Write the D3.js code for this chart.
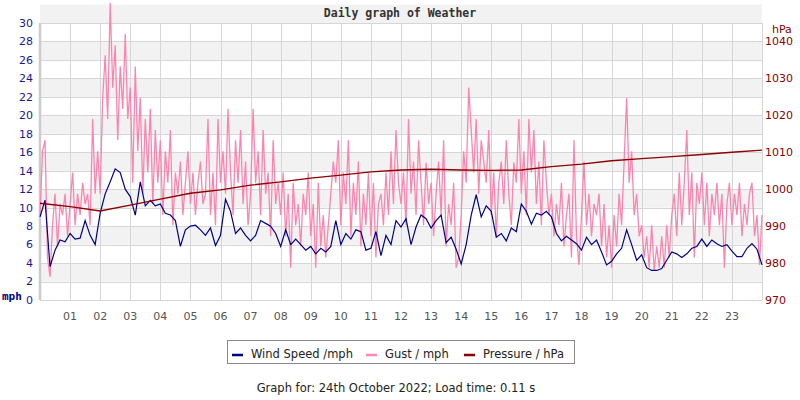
<!DOCTYPE html>
<html>
<head>
<meta charset="utf-8">
<script src="https://cdn.jsdelivr.net/npm/d3@7"></script>
<style>
    body { margin: 0; background: #fff; }
    svg { display: block; font-family: "DejaVu Sans", sans-serif; }
</style>
</head>
<body>
<div id="chart"></div>
<script>
// wind speed, mph, one value every 10 minutes from 00:00 to 24:00
const windSpeed = [
    9.0, 10.8, 3.6, 5.4, 6.5, 6.3,
    7.2, 6.6, 6.7, 8.6, 7.0, 6.0,
    9.4, 11.5, 12.8, 14.2, 13.8, 12.0,
    11.2, 9.2, 12.8, 10.2, 10.8, 10.2,
    10.4, 9.4, 9.2, 8.6, 5.8, 7.6,
    8.0, 8.1, 7.6, 7.0, 7.8, 5.9,
    7.0, 10.9, 9.6, 7.2, 7.8, 7.0,
    6.4, 7.0, 8.6, 8.3, 8.0, 7.2,
    5.8, 7.6, 6.0, 6.6, 6.0, 5.4,
    5.8, 5.0, 5.6, 5.2, 5.8, 8.6,
    6.0, 7.2, 6.6, 7.6, 7.4, 5.4,
    5.6, 7.4, 4.8, 7.0, 6.0, 8.6,
    7.9, 8.8, 6.0, 7.9, 9.2, 8.8,
    7.8, 8.6, 9.2, 6.2, 6.8, 5.5,
    3.9, 6.0, 9.2, 11.4, 9.0, 10.2,
    9.6, 6.8, 7.2, 6.4, 7.8, 7.4,
    10.4, 9.6, 8.2, 9.4, 9.2, 9.6,
    9.0, 7.2, 6.4, 6.9, 6.5, 6.1,
    5.4, 6.8, 6.0, 6.5, 5.2, 3.8,
    4.2, 5.0, 5.6, 7.6, 6.0, 4.3,
    4.9, 3.5, 3.2, 3.2, 3.4, 4.3,
    5.2, 5.0, 4.6, 5.0, 5.6, 5.8,
    6.6, 5.8, 6.5, 6.1, 5.8, 6.0,
    5.3, 4.7, 4.7, 5.6, 6.1, 5.5,
    3.8,
]

// gust, mph, one value every 5 minutes
const gustSpeed = [
    9.2, 16.1, 17.3, 4.6, 2.5, 8.1, 11.5, 5.8, 10.4, 9.2, 11.5, 6.9,
    10.4, 13.8, 8.1, 11.5, 9.2, 12.7, 10.4, 11.5, 8.1, 19.6, 11.5, 16.1,
    11.5, 21.9, 26.5, 19.6, 32.2, 23.0, 27.6, 17.3, 25.3, 20.7, 28.8, 19.6,
    23.0, 12.7, 25.3, 16.1, 21.9, 11.5, 19.6, 13.8, 20.7, 10.4, 18.4, 12.7,
    17.3, 9.2, 16.1, 12.7, 18.4, 8.1, 13.8, 11.5, 15.0, 9.2, 12.7, 16.1,
    10.4, 13.8, 9.2, 12.7, 15.0, 10.4, 11.5, 19.6, 9.2, 13.8, 8.1, 19.6,
    12.7, 16.1, 11.5, 20.7, 13.8, 9.2, 17.3, 12.7, 18.4, 10.4, 15.0, 8.1,
    11.5, 20.7, 12.7, 16.1, 9.2, 18.4, 11.5, 13.8, 6.9, 17.3, 10.4, 12.7,
    9.2, 13.8, 6.9, 11.5, 3.5, 12.7, 8.1, 10.4, 5.8, 11.5, 9.2, 13.8,
    6.9, 10.4, 3.5, 12.7, 5.8, 9.2, 4.6, 8.1, 11.5, 15.0, 12.7, 17.3,
    8.1, 13.8, 10.4, 17.3, 6.9, 12.7, 9.2, 15.0, 5.8, 11.5, 8.1, 13.8,
    6.9, 12.7, 4.6, 10.4, 11.5, 8.1, 13.8, 9.2, 16.1, 10.4, 18.4, 12.7,
    10.4, 13.8, 8.1, 19.6, 11.5, 15.0, 9.2, 17.3, 12.7, 8.1, 14.9, 10.4,
    12.7, 6.9, 11.5, 15.0, 9.2, 17.3, 5.8, 10.4, 8.1, 12.7, 3.5, 4.6,
    9.2, 16.1, 12.7, 23.0, 18.4, 13.8, 19.6, 11.5, 17.3, 15.0, 12.7, 18.4,
    9.2, 13.8, 6.9, 12.7, 15.0, 10.4, 17.3, 11.5, 8.1, 14.9, 12.7, 19.6,
    11.5, 16.1, 9.2, 19.6, 13.8, 18.4, 10.4, 15.0, 8.1, 17.3, 12.7, 9.2,
    11.5, 6.9, 10.4, 8.1, 12.7, 5.8, 9.2, 11.5, 4.6, 17.3, 6.9, 3.8,
    9.2, 15.0, 8.1, 11.5, 6.9, 10.4, 9.2, 11.5, 5.8, 10.4, 4.6, 8.1,
    3.5, 9.2, 5.8, 11.5, 8.1, 15.0, 21.9, 12.7, 16.1, 9.2, 11.5, 6.9,
    8.1, 4.6, 6.9, 3.5, 8.1, 3.2, 5.8, 3.5, 6.9, 3.5, 8.1, 4.6,
    9.2, 11.5, 6.9, 13.8, 8.1, 12.7, 18.4, 9.2, 13.8, 4.6, 12.7, 10.4,
    13.8, 8.1, 12.7, 6.9, 11.5, 9.2, 12.7, 8.1, 11.5, 3.5, 10.4, 12.7,
    8.1, 11.5, 9.2, 12.7, 6.9, 10.4, 8.1, 11.5, 12.7, 6.9, 9.2, 3.8,
    9.2,
]

// pressure, hPa, hourly
const pressure = [
    996.2, 995.3, 994.1, 995.7, 997.3, 998.9, 999.8, 1001.1, 1002.0, 1003.0,
    1003.8, 1004.7, 1005.2, 1005.4, 1005.2, 1005.1, 1005.2, 1006.1, 1006.8,
    1007.7, 1008.3, 1008.8, 1009.4, 1010.0, 1010.6,
]

const hourLabels = ["01", "02", "03", "04", "05", "06", "07", "08", "09", "10", "11", "12",
    "13", "14", "15", "16", "17", "18", "19", "20", "21", "22", "23"]
const mphTicks = [0, 2, 4, 6, 8, 10, 12, 14, 16, 18, 20, 22, 24, 26, 28, 30]
const hpaTicks = [970, 980, 990, 1000, 1010, 1020, 1030, 1040]

const legendItems = [
    { label: "Wind Speed /mph", color: "#000088" },
    { label: "Gust / mph", color: "#ff88b0" },
    { label: "Pressure / hPa", color: "#8b0000" },
]

const width = 800
const height = 400
const plot = { left: 40, right: 762, top: 23, bottom: 300 }

const x = d3.scaleLinear().domain([0, 24]).range([plot.left, plot.right])
const yMph = d3.scaleLinear().domain([0, 30]).range([plot.bottom, plot.top])
const yHpa = d3.scaleLinear().domain([970, 1045]).range([plot.bottom, plot.top])

const svg = d3.select("#chart").append("svg").attr("width", width).attr("height", height)

// --- background bands and grid ---
svg.selectAll(".band")
    .data(mphTicks.filter((t) => t % 4 === 2))
    .enter()
    .append("rect")
    .attr("x", plot.left)
    .attr("width", plot.right - plot.left)
    .attr("y", (t) => yMph(t + 2))
    .attr("height", (t) => yMph(t) - yMph(t + 2))
    .attr("fill", "#f2f2f2")

svg.selectAll(".hgrid")
    .data(mphTicks)
    .enter()
    .append("line")
    .attr("x1", plot.left).attr("x2", plot.right)
    .attr("y1", (t) => Math.round(yMph(t)) + 0.5).attr("y2", (t) => Math.round(yMph(t)) + 0.5)
    .attr("stroke", "#d6d6d6")

svg.selectAll(".vgrid")
    .data(d3.range(1, 25))
    .enter()
    .append("line")
    .attr("x1", (h) => Math.round(x(h)) + 0.5).attr("x2", (h) => Math.round(x(h)) + 0.5)
    .attr("y1", plot.top).attr("y2", plot.bottom)
    .attr("stroke", "#d6d6d6")

svg.append("line")
    .attr("x1", plot.left).attr("x2", plot.left)
    .attr("y1", plot.top).attr("y2", plot.bottom)
    .attr("stroke", "#cccccc").attr("stroke-width", 2.5)

// --- series ---
const gustLine = d3.line().x((d, i) => x(i / 12)).y((d) => yMph(d))
const windLine = d3.line().x((d, i) => x(i / 6)).y((d) => yMph(d))
const pressureLine = d3.line().x((d, i) => x(i)).y((d) => yHpa(d))

svg.append("path").attr("d", gustLine(gustSpeed))
    .attr("fill", "none").attr("stroke", "#ff84ad").attr("stroke-width", 1.3)

svg.append("path").attr("d", windLine(windSpeed))
    .attr("fill", "none").attr("stroke", "#000088").attr("stroke-width", 1.2)

svg.append("path").attr("d", pressureLine(pressure))
    .attr("fill", "none").attr("stroke", "#8b0000").attr("stroke-width", 1.3)

// --- axes labels ---
svg.selectAll(".mph-label")
    .data(mphTicks)
    .enter()
    .append("text")
    .attr("x", 33).attr("y", (t) => yMph(t))
    .attr("dy", "0.35em").attr("text-anchor", "end")
    .attr("font-size", 11).attr("fill", "#1a1a8c")
    .text((t) => t)

svg.selectAll(".hpa-label")
    .data(hpaTicks)
    .enter()
    .append("text")
    .attr("x", 765).attr("y", (t) => yHpa(t))
    .attr("dy", "0.35em")
    .attr("font-size", 11).attr("fill", "#8b0000")
    .text((t) => t)

svg.append("text").attr("x", 772).attr("y", 29).attr("dy", "0.35em")
    .attr("font-size", 11).attr("fill", "#8b0000").text("hPa")

svg.append("text").attr("x", 2).attr("y", 296).attr("dy", "0.35em")
    .attr("font-family", "'DejaVu Sans Mono', monospace")
    .attr("font-size", 11).attr("font-weight", "bold").attr("fill", "#000080").text("mph")

svg.selectAll(".hour-label")
    .data(hourLabels)
    .enter()
    .append("text")
    .attr("x", (d, i) => x(i + 1)).attr("y", 316)
    .attr("dy", "0.35em").attr("text-anchor", "middle")
    .attr("font-size", 11).attr("fill", "#555")
    .text((d) => d)

svg.append("text")
    .attr("x", 400).attr("y", 13).attr("dy", "0.35em").attr("text-anchor", "middle")
    .attr("font-family", "'DejaVu Sans Mono', monospace").attr("font-weight", "bold")
    .attr("font-size", 11.5).attr("fill", "#333")
    .text("Daily graph of Weather")

// --- legend ---
svg.append("rect")
    .attr("x", 227.5).attr("y", 340.5).attr("width", 347).attr("height", 23)
    .attr("fill", "#fff").attr("stroke", "#888")

const legendX = [232, 366, 464]
const legend = svg.selectAll(".legend-item")
    .data(legendItems)
    .enter()
    .append("g")
    .attr("transform", (d, i) => `translate(${legendX[i]},355)`)

legend.append("line").attr("x1", 0).attr("x2", 11).attr("y1", 0).attr("y2", 0)
    .attr("stroke", (d) => d.color).attr("stroke-width", 2.5)

legend.append("text").attr("x", 19).attr("y", -1).attr("dy", "0.35em")
    .attr("font-size", 11.5).attr("fill", "#222")
    .text((d) => d.label)

svg.append("text")
    .attr("x", 396).attr("y", 388).attr("dy", "0.35em").attr("text-anchor", "middle")
    .attr("font-size", 11.5).attr("fill", "#222")
    .text("Graph for: 24th October 2022; Load time: 0.11 s")
</script>
</body>
</html>
